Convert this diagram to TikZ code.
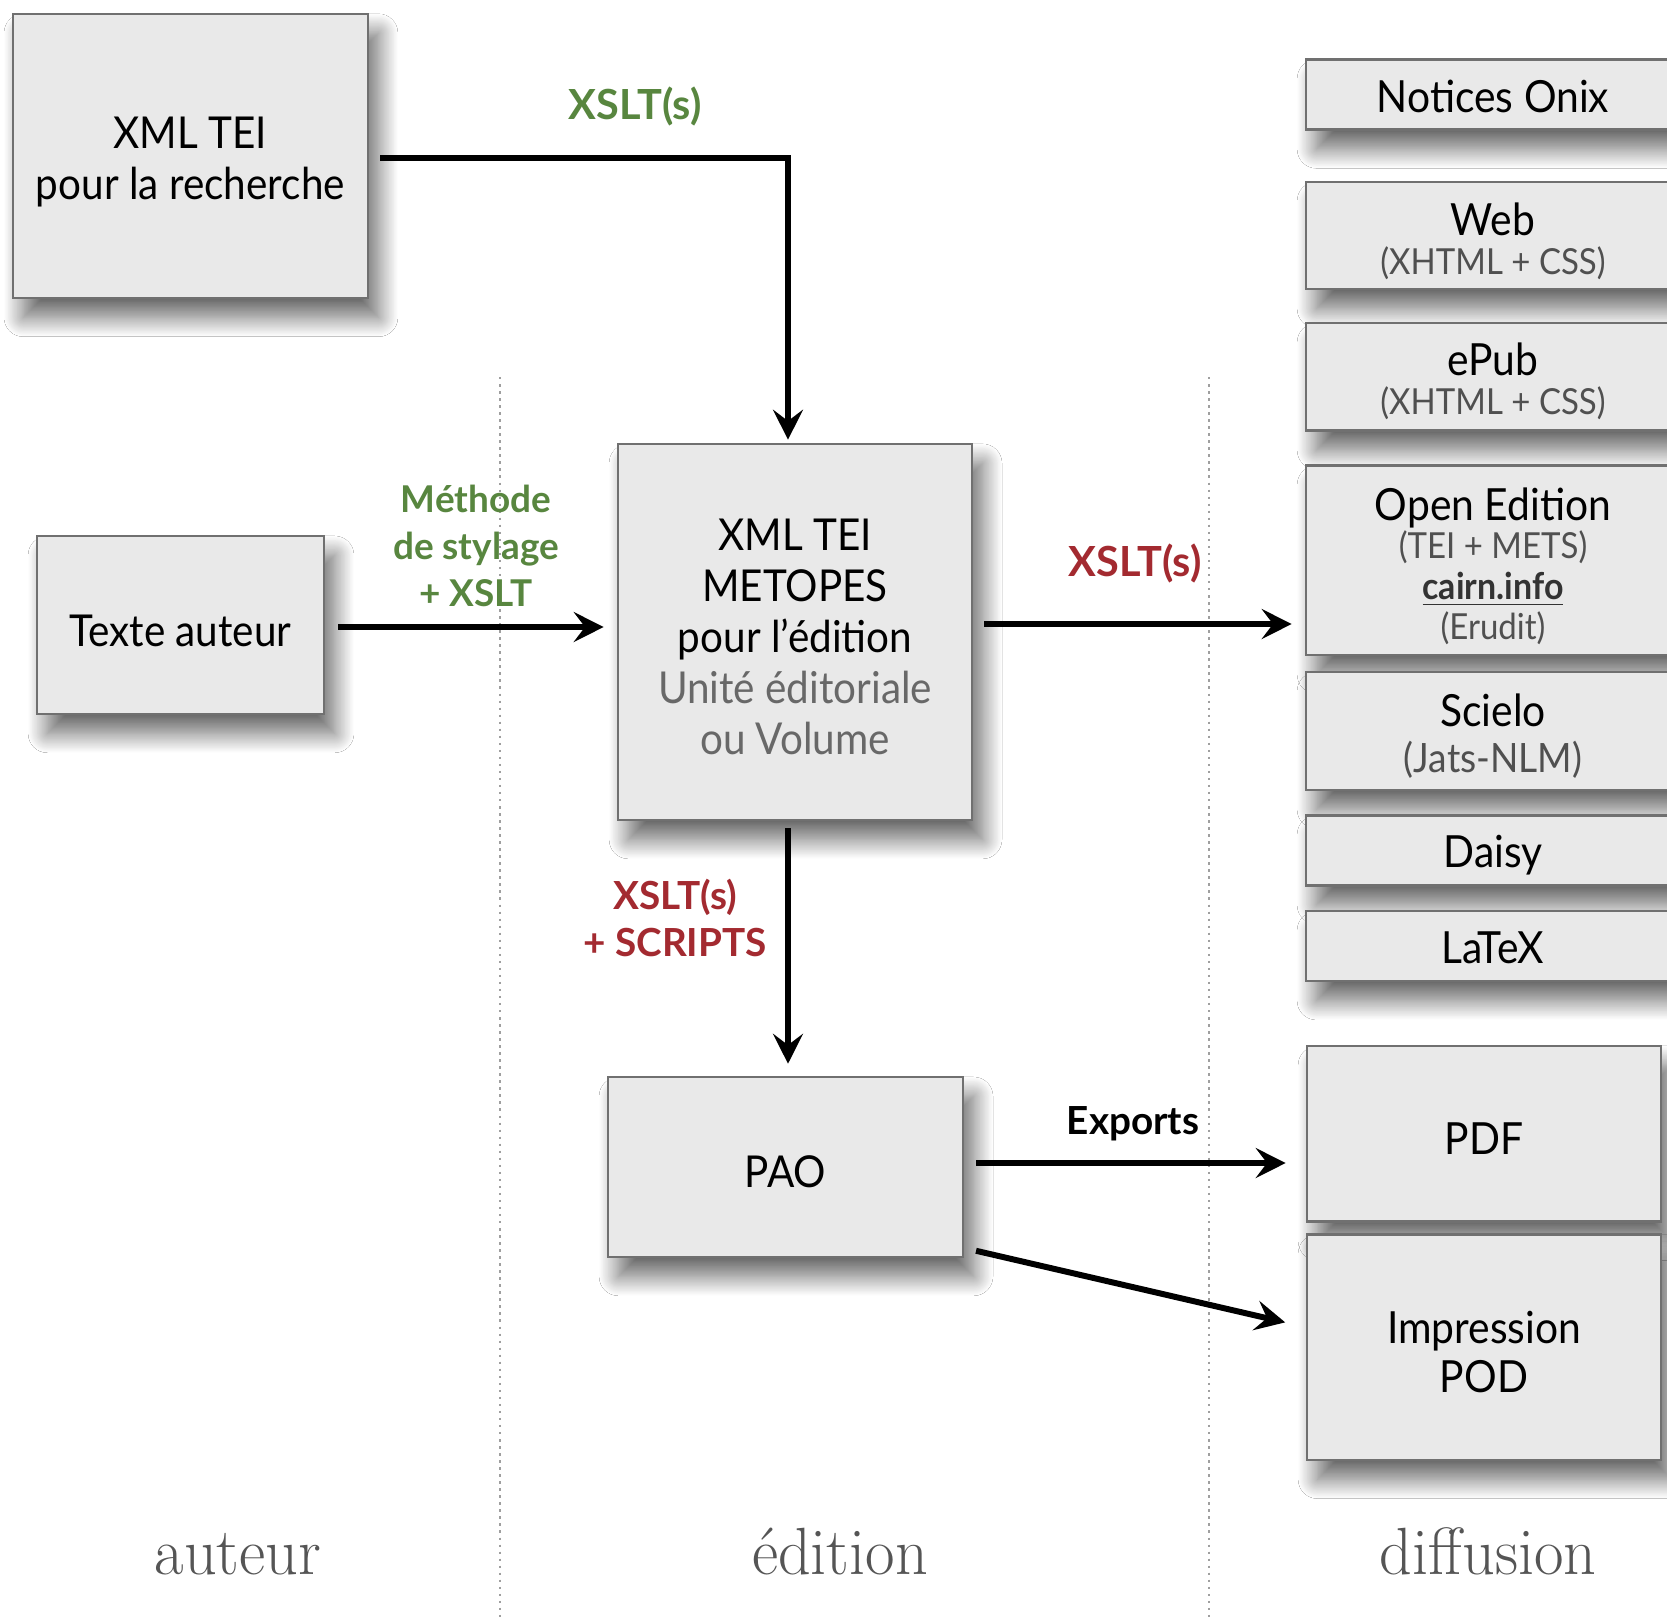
\documentclass[tikz,border=0pt]{standalone}
\usepackage{fontspec}
\usepackage{graphicx}
\setmainfont{Lato}[FakeStretch=0.92]
\newfontfamily\lblfont{Lato}
\newfontfamily\colserif{Latin Modern Roman}
\usetikzlibrary{arrows.meta,shadows.blur,calc}
\definecolor{boxfill}{HTML}{E9E9E9}
\definecolor{boxline}{HTML}{707070}
\definecolor{lblgreen}{HTML}{58863F}
\definecolor{lblred}{HTML}{A32A30}
\definecolor{subgray}{HTML}{505050}
\definecolor{softgray}{HTML}{686868}
\definecolor{colgray}{HTML}{555555}
\newcommand{\mysub}[1]{{\fontsize{10.2}{12}\selectfont\color{subgray}#1}}
\begin{document}
\begin{tikzpicture}[x=0.01cm,y=-0.01cm,
  box/.style={draw=boxline, fill=boxfill, line width=0.7pt, inner sep=0pt,
    blur shadow={shadow xshift=3pt, shadow yshift=-5.5pt, shadow blur radius=5.5pt, shadow opacity=60, shadow blur steps=24}},
  boxtext/.style={align=center, inner sep=0pt, font=\fontsize{12.5}{14.5}\selectfont},
  rtext/.style={align=center, inner sep=0pt, font=\fontsize{12.6}{12.5}\selectfont},
  flow/.style={-{Stealth[length=8.5pt,width=8.5pt,inset=3.2pt]}, line width=1.7pt},
  lbl/.style={font=\lblfont\bfseries\fontsize{10.5}{13.3}\selectfont, align=center, inner sep=0pt},
  colname/.style={font=\colserif\fontsize{19}{19}\selectfont, text=colgray, anchor=base, inner sep=0pt},
  sepline/.style={dash pattern=on 0.7pt off 1.3pt, line width=0.8pt, draw=gray!75}]
\useasboundingbox (0,0) rectangle (1667,1617);
\fill[white] (0,0) rectangle (1667,1617);

% column separators
\draw[sepline] (500,377) -- (500,1617);
\draw[sepline] (1209,377) -- (1209,1617);

% left / middle boxes
\node[box, minimum width=3.55cm, minimum height=2.84cm] (A) at (190.4,155.9) {};
\node[boxtext] (At) at ([yshift=-0.064cm]A.center) {XML TEI\\pour la recherche};
\node[box, minimum width=2.87cm, minimum height=1.78cm] (B) at (180.5,625) {};
\node[boxtext] (Bt) at ([yshift=-0.064cm]B.center) {Texte auteur};
\node[box, minimum width=3.54cm, minimum height=3.76cm] (C) at (795,632) {};
\node[boxtext] (Ct) at ([yshift=-0.045cm]C.center)
  {XML TEI\\METOPES\\pour l’édition\\{\color{softgray}Unité éditoriale}\\{\color{softgray}ou Volume}};
\node[box, minimum width=3.55cm, minimum height=1.80cm] (D) at (785.5,1167) {};
\node[boxtext] (Dt) at ([yshift=-0.045cm]D.center) {PAO};

% right column
\node[box, minimum width=3.74cm, minimum height=0.70cm] (onix) at (1493,94.6) {};
\node[rtext] (onixt) at ([yshift=-0.02cm]onix.center) {Notices Onix};
\node[box, minimum width=3.74cm, minimum height=1.074cm] (web) at (1493,235.5) {};
\node[rtext] (webt) at ([yshift=-0.06cm]web.center) {Web\\[-1.5pt]\mysub{(XHTML + CSS)}};
\node[box, minimum width=3.74cm, minimum height=1.074cm] (epub) at (1493,376.9) {};
\node[rtext] (epubt) at ([yshift=-0.045cm]epub.center) {ePub\\[-1.5pt]\mysub{(XHTML + CSS)}};
\node[box, minimum width=3.74cm, minimum height=1.892cm] (oe) at (1493,560.3) {};
\node[rtext] (oet) at ([yshift=-0.06cm]oe.center)
  {Open Edition\\[-1.5pt]\mysub{(TEI + METS)}\\[-1pt]{\fontsize{10.5}{12}\selectfont\bfseries\color{black!80}\underline{cairn.info}}\\[-1pt]\mysub{(Erudit)}};
\node[box, minimum width=3.74cm, minimum height=1.18cm] (scielo) at (1493,731) {};
\node[rtext] (scielot) at ([yshift=-0.05cm]scielo.center) {Scielo\\[0.5pt]{\fontsize{11.5}{12}\selectfont\color{subgray}(Jats-NLM)}};
\node[box, minimum width=3.74cm, minimum height=0.70cm] (daisy) at (1493,850.5) {};
\node[rtext] (daisyt) at ([yshift=-0.05cm]daisy.center) {Daisy};
\node[box, minimum width=3.74cm, minimum height=0.70cm] (latex) at (1493,946.2) {};
\node[rtext] (latext) at ([yshift=-0.02cm]latex.center) {LaTeX};
\node[box, minimum width=3.54cm, minimum height=1.756cm] (pdf) at (1484,1133.8) {};
\node[rtext] (pdft) at ([yshift=-0.045cm]pdf.center) {PDF};
\node[box, minimum width=3.54cm, minimum height=2.254cm] (pod) at (1484,1347.1) {};
\node[rtext] (podt) at ([yshift=-0.05cm]pod.center) {Impression\\[1.5pt]POD};

% connectors
\draw[flow, shorten <=0.11cm, shorten >=0.03cm] ([yshift=-0.02cm]A.east) -| ([xshift=-0.07cm]C.north);
\draw[flow, shorten <=0.13cm, shorten >=0.13cm] ([yshift=-0.02cm]B.east) -- ([yshift=-0.02cm]B.east -| C.west);
\draw[flow, shorten <=0.11cm, shorten >=0.13cm] ([yshift=0.08cm]C.east) -- ([yshift=0.08cm]C.east -| oe.west);
\draw[flow, shorten <=0.07cm, shorten >=0.12cm] ([xshift=0.025cm]C.south -| D.north) -- ([xshift=0.025cm]D.north);
\draw[flow, shorten <=0.12cm, shorten >=0.2cm] ([yshift=0.04cm]D.east) -- ([yshift=0.04cm]D.east -| pdf.west);
\coordinate (d6) at ([yshift=-0.81cm]D.east);
\coordinate (p6) at ([yshift=0.2cm]pod.west);
\draw[flow, shorten <=0.12cm, shorten >=0.21cm] (d6) -- (p6);

% labels
\node[lbl, text=lblgreen, font=\lblfont\bfseries\fontsize{11.8}{13.3}\selectfont] (l1) at (635,106) {XSLT(s)};
\node[lbl, text=lblgreen] (l2) at (476,546) {Méthode\\de stylage\\+ XSLT};
\node[lbl, text=lblred, font=\lblfont\bfseries\fontsize{11.8}{13.3}\selectfont] (l3) at (1135,563) {XSLT(s)};
\node[lbl, text=lblred, font=\lblfont\bfseries\fontsize{11}{13.5}\selectfont] (l4) at (675,918) {XSLT(s)\\+ SCRIPTS};
\node[lbl, font=\lblfont\bfseries\fontsize{11}{13.3}\selectfont] (l5) at (1133,1124) {Exports};

% column names
\node[colname] (c1) at (238,1574) {\scalebox{0.96}[1]{auteur}};
\node[colname] (c2) at (840,1574) {\scalebox{0.96}[1]{édition}};
\node[colname] (c3) at (1488,1574) {\scalebox{0.96}[1]{diffusion}};
\end{tikzpicture}
\end{document}
